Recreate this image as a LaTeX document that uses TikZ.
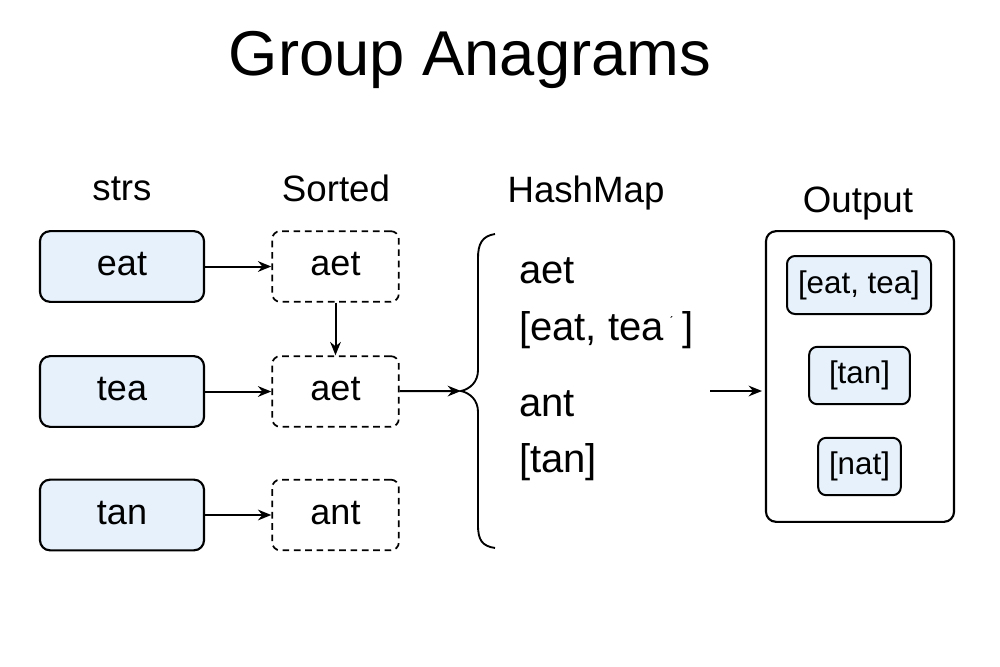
\documentclass[tikz,border=0pt]{standalone}
\usepackage{fontspec}
\setmainfont{Liberation Sans}
\usetikzlibrary{arrows.meta}
\definecolor{boxfill}{HTML}{E6F1FB}
\tikzset{
  px/.style={x=0.75pt,y=-0.75pt},
  inbox/.style={draw,line width=1.6pt,rounded corners=7.5pt,fill=boxfill,minimum width=123pt,minimum height=53pt,font=\fontsize{27}{30}\selectfont,text height=14pt,text depth=0pt},
  sortbox/.style={draw,line width=1.3pt,dashed,dash pattern=on 5pt off 3.5pt,rounded corners=6pt,minimum width=95pt,minimum height=53pt,font=\fontsize{27}{30}\selectfont,text height=14pt,text depth=0pt},
  outbox/.style={draw,line width=1.5pt,rounded corners=6pt,fill=boxfill,inner sep=0pt,font=\fontsize{23.5}{26}\selectfont},
  hdr/.style={font=\fontsize{27.5}{30}\selectfont,anchor=base},
  hm/.style={font=\fontsize{30}{34}\selectfont,anchor=west,inner sep=0pt},
  arr/.style={line width=1.5pt,-{Stealth[length=10pt,width=8pt]}},
}
\begin{document}
\begin{tikzpicture}[px]
\useasboundingbox (0,0) rectangle (1000,667);
\node[font=\fontsize{47.5}{54}\selectfont] (title) at (470,60) {Group Anagrams};
\node[hdr] (h1) at (122,200) {strs};
\node[hdr] (h2) at (336,201) {Sorted};
\node[hdr] (h3) at (586,202) {HashMap};
\node[hdr] (h4) at (858,212) {Output};

\node[inbox] (i1) at (122,266.5) {eat};
\node[inbox] (i2) at (122,391.5) {tea};
\node[inbox] (i3) at (122,515) {tan};

\node[sortbox] (s1) at (335.5,266.5) {aet};
\node[sortbox] (s2) at (335.5,391.5) {aet};
\node[sortbox] (s3) at (335.5,515) {ant};

\draw[arr] (i1) -- (s1);
\draw[arr] (i2) -- (s2);
\draw[arr] (i3) -- (s3);
\draw[arr] (s1) -- (s2);

\coordinate (tip) at (461,391);
\draw[line width=1.4pt] (495,234) .. controls (482,236) and (478,244) .. (478,258)
  -- (478,370) .. controls (478,382) and (470,389) .. (tip)
  .. controls (470,393) and (478,400) .. (478,412)
  -- (478,525) .. controls (478,540) and (482,546) .. (495,548);
\draw[arr] (s2) -- (tip);

\node[hm] (k1) at (519,271) {aet};
\node[hm] (v1) at (519,330) {[eat, tea\kern4pt\raisebox{9pt}{\fontsize{10}{10}\selectfont\'{}}\kern7pt]};
\node[hm] (k2) at (519,404) {ant};
\node[hm] (v2) at (519,462) {[tan]};

\node[draw,line width=1.6pt,rounded corners=7.5pt,minimum width=141pt,minimum height=218pt] (out) at (860,376.5) {};
\coordinate (astart) at (710,391);
\draw[arr] (astart) -- (762,391);

\node[outbox,minimum width=108pt,minimum height=43.5pt] (o1) at (859,285) {[eat, tea]};
\node[outbox,minimum width=75.5pt,minimum height=43pt] (o2) at (859.5,375.5) {[tan]};
\node[outbox,minimum width=62pt,minimum height=43pt] (o3) at (859.5,466.5) {[nat]};
\end{tikzpicture}
\end{document}
